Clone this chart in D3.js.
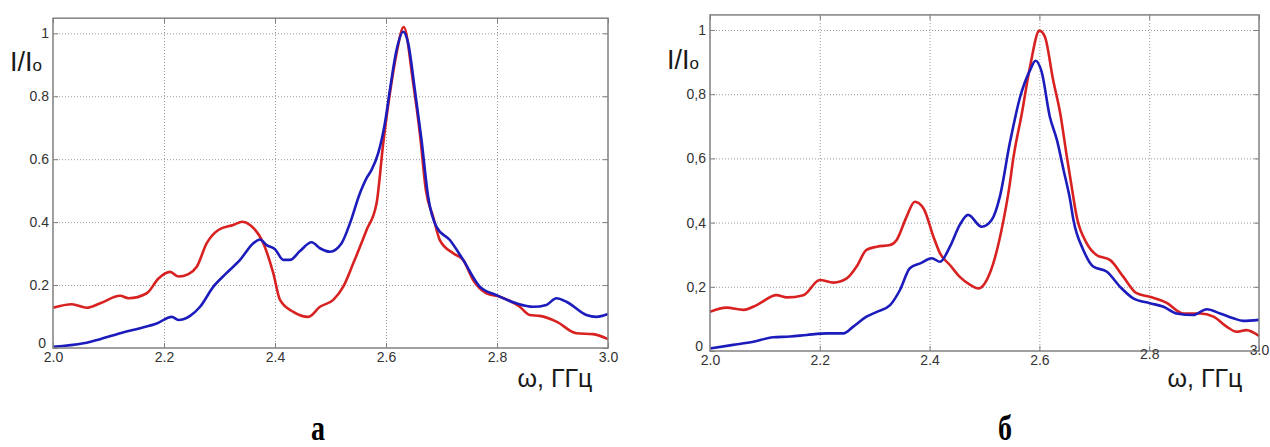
<!DOCTYPE html>
<html>
<head>
<meta charset="utf-8">
<script src="https://cdn.jsdelivr.net/npm/d3@7"></script>
<style>
  html, body { margin: 0; padding: 0; background: #fff; }
  svg { display: block; }
</style>
</head>
<body>
<svg id="chart" width="1270" height="447"></svg>
<script>
// ---------- data ----------
const xTicks = [2.0, 2.2, 2.4, 2.6, 2.8, 3.0];
const yTicks = [0, 0.2, 0.4, 0.6, 0.8, 1];

// Panel "а"
const aRedX  = [2.0,2.034,2.061,2.085,2.121,2.136,2.169,2.19,2.211,2.226,2.244,2.259,2.277,2.298,2.325,2.341,2.355,2.379,2.397,2.409,2.433,2.46,2.481,2.505,2.523,2.541,2.565,2.583,2.595,2.607,2.619,2.632,2.649,2.661,2.672,2.685,2.697,2.721,2.739,2.757,2.781,2.805,2.841,2.859,2.877,2.907,2.943,2.973,3.0];
const aRedY  = [0.128,0.139,0.128,0.142,0.166,0.158,0.174,0.221,0.242,0.227,0.235,0.258,0.333,0.375,0.391,0.401,0.391,0.333,0.237,0.153,0.115,0.099,0.131,0.153,0.195,0.269,0.375,0.46,0.65,0.809,0.936,1.02,0.841,0.682,0.50,0.417,0.343,0.301,0.280,0.216,0.174,0.163,0.131,0.105,0.102,0.084,0.047,0.044,0.028];
const aBlueX = [2.0,2.055,2.085,2.121,2.157,2.187,2.214,2.226,2.247,2.265,2.289,2.312,2.337,2.361,2.373,2.385,2.4,2.415,2.427,2.445,2.466,2.481,2.499,2.52,2.535,2.553,2.565,2.574,2.586,2.598,2.607,2.619,2.631,2.640,2.652,2.664,2.676,2.691,2.715,2.739,2.769,2.799,2.835,2.865,2.889,2.907,2.925,2.961,2.979,3.0];
const aBlueY = [0.004,0.015,0.028,0.047,0.063,0.078,0.099,0.089,0.102,0.131,0.195,0.237,0.280,0.333,0.345,0.327,0.314,0.280,0.280,0.308,0.336,0.317,0.306,0.333,0.396,0.492,0.54,0.566,0.619,0.714,0.820,0.947,1.005,0.968,0.820,0.661,0.48,0.385,0.343,0.280,0.195,0.168,0.142,0.131,0.137,0.158,0.147,0.105,0.099,0.108];

// Panel "б"
const bRedX  = [2.0,2.03,2.061,2.085,2.121,2.14,2.17,2.2,2.225,2.249,2.267,2.285,2.304,2.328,2.34,2.358,2.373,2.389,2.407,2.419,2.437,2.455,2.474,2.489,2.504,2.516,2.531,2.546,2.552,2.568,2.583,2.6,2.61,2.625,2.638,2.65,2.658,2.668,2.686,2.704,2.729,2.753,2.777,2.801,2.832,2.862,2.893,2.917,2.941,2.959,2.977,3.0];
const bRedY  = [0.122,0.135,0.128,0.143,0.174,0.167,0.174,0.221,0.213,0.226,0.263,0.315,0.325,0.330,0.346,0.418,0.465,0.444,0.356,0.304,0.268,0.231,0.206,0.195,0.221,0.273,0.377,0.52,0.595,0.740,0.886,0.998,0.979,0.844,0.740,0.605,0.52,0.418,0.336,0.299,0.283,0.231,0.180,0.169,0.150,0.117,0.117,0.107,0.076,0.060,0.065,0.047];
const bBlueX = [2.0,2.042,2.079,2.115,2.146,2.176,2.213,2.243,2.261,2.285,2.304,2.328,2.346,2.364,2.383,2.404,2.419,2.437,2.455,2.47,2.495,2.513,2.528,2.546,2.565,2.583,2.593,2.604,2.619,2.632,2.644,2.656,2.662,2.68,2.698,2.723,2.747,2.771,2.801,2.826,2.85,2.88,2.905,2.929,2.953,2.971,3.0];
const bBlueY = [0.008,0.019,0.029,0.043,0.045,0.050,0.055,0.055,0.076,0.107,0.122,0.143,0.190,0.258,0.273,0.289,0.278,0.325,0.393,0.424,0.387,0.408,0.481,0.647,0.792,0.875,0.904,0.870,0.730,0.657,0.564,0.47,0.408,0.315,0.263,0.247,0.200,0.164,0.149,0.138,0.117,0.112,0.130,0.117,0.102,0.094,0.097];

const RED = "#d82222", BLUE = "#1c1cbc";
const SANS = "'Liberation Sans', Arial, sans-serif";
const SERIF = "'Liberation Serif', 'Times New Roman', serif";

// ---------- drawing ----------
const svg = d3.select("#chart");

function panel(cfg) {
  const x = d3.scaleLinear().domain([2, 3]).range([cfg.x0, cfg.x1]);
  const y = d3.scaleLinear().domain([0, 1]).range([cfg.yBottom, cfg.yOne]);
  const top = y(cfg.yMax);
  const bottom = y(0);
  const g = svg.append("g");

  // grid (dotted)
  g.append("g").attr("transform", `translate(0,${bottom})`)
    .call(d3.axisBottom(x).tickValues(xTicks.slice(1, -1)).tickSize(-(bottom - top)).tickFormat(""))
    .call(s => s.select(".domain").remove())
    .call(s => s.selectAll("line").attr("stroke", "#9a9a9a").attr("stroke-width", 1).attr("stroke-dasharray", "1,2"));
  g.append("g").attr("transform", `translate(${cfg.x0},0)`)
    .call(d3.axisLeft(y).tickValues(yTicks.slice(1)).tickSize(-(cfg.x1 - cfg.x0)).tickFormat(""))
    .call(s => s.select(".domain").remove())
    .call(s => s.selectAll("line").attr("stroke", "#9a9a9a").attr("stroke-width", 1).attr("stroke-dasharray", "1,2"));

  // curves
  const line = d3.line().x(d => x(d[0])).y(d => y(d[1])).curve(d3.curveMonotoneX);
  const series = [[cfg.redX, cfg.redY, RED], [cfg.blueX, cfg.blueY, BLUE]];
  series.forEach(([xs, ys, c]) => {
    g.append("path").datum(xs.map((v, i) => [v, ys[i]]))
      .attr("fill", "none").attr("stroke", c).attr("stroke-width", 2.6)
      .attr("stroke-linejoin", "round").attr("d", line);
  });

  // frame
  g.append("rect").attr("x", cfg.x0).attr("y", top)
    .attr("width", cfg.x1 - cfg.x0).attr("height", bottom - top)
    .attr("fill", "none").attr("stroke", "#808080").attr("stroke-width", 1.5);

  // inward ticks on all sides
  const fmtY = cfg.comma ? (d => String(d).replace(".", ",")) : (d => String(d));
  const bx = g.append("g").attr("transform", `translate(0,${bottom})`)
    .call(d3.axisBottom(x).tickValues(xTicks).tickSize(-5).tickPadding(cfg.xPad).tickFormat(d3.format(".1f")));
  bx.select(".domain").remove();
  bx.selectAll("line").attr("stroke", "#808080");
  bx.selectAll("text").attr("fill", "#333").attr("font-size", 14)
    .style("font-family", SANS)
    .attr("dy", d => (cfg.lift[d.toFixed(1)] ? -cfg.lift[d.toFixed(1)] : 0) + 10);

  const ly = g.append("g").attr("transform", `translate(${cfg.x0},0)`)
    .call(d3.axisLeft(y).tickValues(yTicks).tickSize(-5).tickPadding(4).tickFormat(fmtY));
  ly.select(".domain").remove();
  ly.selectAll("line").attr("stroke", "#808080");
  ly.selectAll("text").attr("fill", "#333").attr("font-size", 14)
    .style("font-family", SANS)
    .attr("dy", d => d === 0 ? "-0.05em" : "0.32em")
    .attr("dx", d => d === 0 ? -3 : 0);

  const tx = g.append("g").attr("transform", `translate(0,${top})`)
    .call(d3.axisTop(x).tickValues(xTicks).tickSize(-5).tickFormat(""));
  tx.select(".domain").remove();
  tx.selectAll("line").attr("stroke", "#808080");
  const ry = g.append("g").attr("transform", `translate(${cfg.x1},0)`)
    .call(d3.axisRight(y).tickValues(yTicks).tickSize(-5).tickFormat(""));
  ry.select(".domain").remove();
  ry.selectAll("line").attr("stroke", "#808080");

  // y label I/Io
  const yl = g.append("text").attr("x", cfg.ylabX).attr("y", cfg.ylabY)
    .attr("font-size", 27).attr("fill", "#1a1a1a").style("font-family", SANS);
  yl.append("tspan").text("I/I");
  yl.append("tspan").attr("font-size", 17).text("o");

  // x label
  g.append("text").attr("x", cfg.xlabX).attr("y", cfg.xlabY)
    .attr("text-anchor", "middle").attr("font-size", 25).attr("fill", "#1a1a1a")
    .style("font-family", SANS)
    .text("ω, ГГц");

  // panel letter (bold, condensed serif)
  g.append("text")
    .attr("transform", `translate(${cfg.letX},440) scale(0.8,1)`)
    .attr("text-anchor", "middle").attr("font-size", 35).attr("font-weight", "bold")
    .style("font-family", SERIF).attr("fill", "#000")
    .text(cfg.letter);
}

panel({ x0: 53, x1: 608, yBottom: 348, yOne: 33.3, yMax: 1.048, comma: false,
        redX: aRedX, redY: aRedY, blueX: aBlueX, blueY: aBlueY,
        xPad: 4, lift: {}, ylabX: 10, ylabY: 71, xlabX: 555, xlabY: 387,
        letX: 318, letter: "а" });
panel({ x0: 710, x1: 1259, yBottom: 351, yOne: 30, yMax: 1.047, comma: true,
        redX: bRedX, redY: bRedY, blueX: bBlueX, blueY: bBlueY,
        xPad: 4, lift: {"2.8": 6, "3.0": 10}, ylabX: 667, ylabY: 69, xlabX: 1205, xlabY: 387,
        letX: 1005, letter: "б" });
</script>
</body>
</html>
